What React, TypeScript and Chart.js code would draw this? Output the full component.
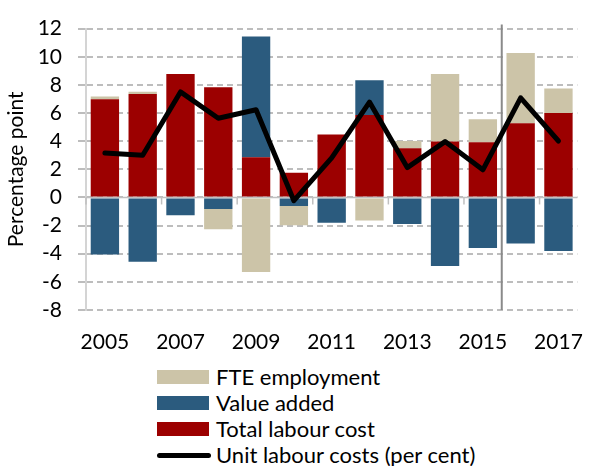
import React, { useEffect, useRef } from "react";
import { Chart, registerables } from "chart.js";
Chart.register(...registerables);

const years = ["2005","2006","2007","2008","2009","2010","2011","2012","2013","2014","2015","2016","2017"];
const totalLabourCost = [6.97, 7.36, 8.77, 7.84, 2.86, 1.75, 4.47, 5.86, 3.5, 3.97, 3.92, 5.28, 6.0];
const valueAdded = [-4.06, -4.57, -1.27, -0.83, 8.58, -0.6, -1.8, 2.47, -1.89, -4.87, -3.6, -3.28, -3.81];
const fteEmployment = [0.2, 0.16, 0, -1.43, -5.3, -1.38, 0, -1.64, 0.51, 4.8, 1.64, 4.99, 1.75];
const unitLabourCosts = [3.16, 3.0, 7.5, 5.63, 6.23, -0.23, 2.81, 6.78, 2.12, 3.97, 1.96, 7.08, 4.01];
const separatorAfter = "2015";

const RED = "#9C0000";
const BLUE = "#2B5B7E";
const BEIGE = "#CCC4A8";
const FONT = "Lato";

const legendItems = [
  { label: "FTE employment", color: BEIGE, kind: "box" },
  { label: "Value added", color: BLUE, kind: "box" },
  { label: "Total labour cost", color: RED, kind: "box" },
  { label: "Unit labour costs (per cent)", color: "#000", kind: "line" },
];

const extrasPlugin = {
  id: "extras",
  beforeDatasetsDraw(chart: any) {
    const { ctx, chartArea, scales } = chart;
    const x = scales.x;
    const y = scales.y;
    const y0 = y.getPixelForValue(0);
    ctx.save();
    ctx.strokeStyle = "#c0c0c0";
    ctx.lineWidth = 1.5;
    ctx.beginPath();
    ctx.moveTo(chartArea.left, y0);
    ctx.lineTo(chartArea.right, y0);
    ctx.stroke();
    const n = years.length;
    const step = (chartArea.right - chartArea.left) / n;
    for (let i = 0; i <= n; i += 2) {
      const px = x.getPixelForValue(i) - step / 2;
      ctx.beginPath();
      ctx.moveTo(px, y0);
      ctx.lineTo(px, y0 + 7);
      ctx.stroke();
    }
    const idx = years.indexOf(separatorAfter);
    const sx = (x.getPixelForValue(idx) + x.getPixelForValue(idx + 1)) / 2;
    ctx.strokeStyle = "#8a8a8a";
    ctx.lineWidth = 2;
    ctx.beginPath();
    ctx.moveTo(sx, chartArea.top - 4);
    ctx.lineTo(sx, chartArea.bottom);
    ctx.stroke();
    ctx.restore();
  },
};

export default function App() {
  const ref = useRef<HTMLCanvasElement>(null);
  useEffect(() => {
    document.body.style.margin = "0";
    const chart = new Chart(ref.current as HTMLCanvasElement, {
      type: "bar",
      data: {
        labels: years,
        datasets: [
          {
            type: "line",
            label: "Unit labour costs (per cent)",
            data: unitLabourCosts,
            borderColor: "#000",
            borderWidth: 5,
            pointRadius: 0,
            borderJoinStyle: "round",
            borderCapStyle: "round",
            stack: "line",
            tension: 0,
          } as any,
          { label: "Total labour cost", data: totalLabourCost, backgroundColor: RED, stack: "s" },
          { label: "Value added", data: valueAdded, backgroundColor: BLUE, stack: "s" },
          { label: "FTE employment", data: fteEmployment, backgroundColor: BEIGE, stack: "s" },
        ],
      },
      options: {
        animation: false,
        responsive: false,
        maintainAspectRatio: false,
        layout: { padding: { top: 21, right: 5, left: 0, bottom: 0 } },
        datasets: { bar: { barPercentage: 0.75, categoryPercentage: 1 } },
        plugins: { legend: { display: false }, tooltip: { enabled: false } },
        scales: {
          x: {
            stacked: true,
            grid: { display: false, drawTicks: false },
            border: { display: false },
            ticks: {
              autoSkip: false,
              maxRotation: 0,
              padding: 20,
              color: "#000",
              font: { family: FONT, size: 21 },
              callback: (v: any, i: number) => (i % 2 === 0 ? years[i] : ""),
            },
            afterFit: (s: any) => { s.height = 40; },
          },
          y: {
            stacked: true,
            min: -8,
            max: 12,
            ticks: { stepSize: 2, autoSkip: false, padding: 16, color: "#000", font: { family: FONT, size: 21 } },
            grid: { color: "#bdbdbd", lineWidth: 2, tickLength: 8 },
            border: { display: true, color: "#d4d4d4", width: 2, dash: [6, 4] },
            title: {
              display: true,
              text: "Percentage point",
              color: "#000",
              font: { family: FONT, size: 21 },
              padding: { top: 4, bottom: 4 },
            },
            afterFit: (s: any) => { s.width = 86; },
          },
        },
      },
      plugins: [extrasPlugin],
    });
    return () => chart.destroy();
  }, []);

  return (
    <div style={{ position: "relative", width: 603, height: 466, fontFamily: FONT }}>
      <canvas ref={ref} width={603} height={350} style={{ display: "block" }} />
      {legendItems.map((it, i) => (
        <div
          key={it.label}
          style={{
            position: "absolute",
            left: 157,
            top: 377 + i * 26 - 13,
            height: 26,
            display: "flex",
            alignItems: "center",
            whiteSpace: "nowrap",
          }}
        >
          {it.kind === "box" ? (
            <div style={{ width: 52, height: 14, background: it.color, marginRight: 7 }} />
          ) : (
            <div style={{ width: 54, height: 5, background: it.color, borderRadius: 3, marginRight: 5 }} />
          )}
          <span style={{ fontSize: 22, color: "#000", lineHeight: "26px" }}>{it.label}</span>
        </div>
      ))}
    </div>
  );
}
